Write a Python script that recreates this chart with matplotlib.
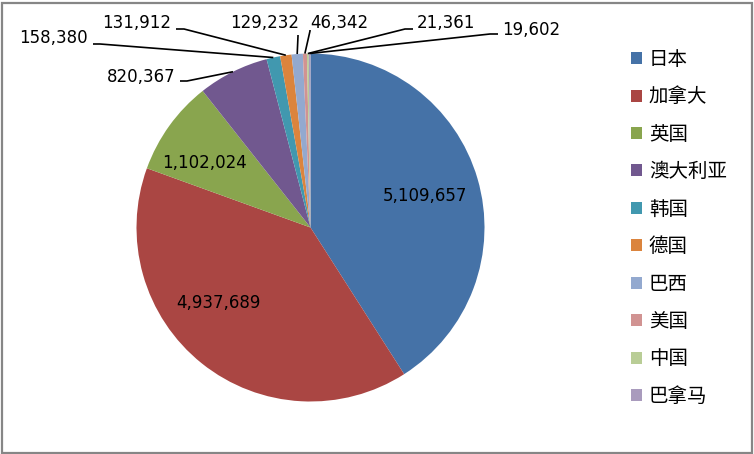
import numpy as np
import matplotlib.pyplot as plt
from matplotlib.patches import Rectangle

plt.rcParams['font.family'] = ['Noto Sans CJK SC', 'DejaVu Sans']

countries = ['日本', '加拿大', '英国', '澳大利亚', '韩国', '德国', '巴西', '美国', '中国', '巴拿马']
values = [5109657, 4937689, 1102024, 820367, 158380, 131912, 129232, 46342, 21361, 19602]
colors = ['#4572A7', '#AA4643', '#89A54E', '#71588F', '#4198AF',
          '#DB843D', '#93A9CF', '#D19392', '#B9CD96', '#A99BBD']

W, H = 754, 454
CX, CY, R = 310.5, 227.5, 174.0  # pie centre / radius in pixels (from top-left)

fig = plt.figure(figsize=(W / 100, H / 100), dpi=100)
fig.patches.append(Rectangle((1.5 / W, 1.5 / H), (W - 4) / W, (H - 4) / H,
                             transform=fig.transFigure, fill=False,
                             edgecolor='#868686', linewidth=1.6))

ax = fig.add_axes([(CX - R) / W, (H - CY - R) / H, 2 * R / W, 2 * R / H])
wedges, _ = ax.pie(values, colors=colors, startangle=90, counterclock=False,
                   radius=1.0, wedgeprops=dict(linewidth=0))
ax.set_xlim(-1, 1)
ax.set_ylim(-1, 1)
ax.set_aspect('equal')
ax.axis('off')


def px(x, y):
    # pixel (from top-left) -> data coords of the pie axes
    return (x - CX) / R, (CY - y) / R


def fmt(v):
    return f"{v:,}"


# inside labels (first three slices)
inside_pos = [(425, 196), (218, 303), (205, 163)]
for v, (x, y) in zip(values[:3], inside_pos):
    ax.text(*px(x, y), fmt(v), ha='center', va='center', fontsize=12,
            family='DejaVu Sans', color='black')

# outside labels: text anchor, horizontal alignment, stub end of leader line
outside = [
    ((175, 77), 'right', (180, 81), (187, 81)),
    ((88, 38), 'right', (93, 44), (100, 44)),
    ((171, 23), 'right', (176, 29), (184, 29)),
    ((299, 23), 'right', (298, 35), (298, 36)),
    ((310, 23), 'left', (310, 30), (310, 31)),
    ((417, 23), 'left', (413, 29), (405, 29)),
    ((502, 30), 'left', (498, 34), (490, 34)),
]
for v, w, (tpos, ha, s0, s1) in zip(values[3:], wedges[3:], outside):
    mid = np.deg2rad((w.theta1 + w.theta2) / 2)
    rim = (np.cos(mid), np.sin(mid))
    ax.text(*px(*tpos), fmt(v), ha=ha, va='center', fontsize=12,
            family='DejaVu Sans', color='black')
    a, b = px(*s0), px(*s1)
    ax.plot([a[0], b[0], rim[0]], [a[1], b[1], rim[1]], color='black',
            linewidth=1.2, clip_on=False, solid_capstyle='butt')

fig.legend(wedges, countries, loc='upper left', bbox_to_anchor=(631 / W, 1 - 49 / H),
           frameon=False, fontsize=14, handlelength=0.57, handleheight=0.57,
           handletextpad=0.35, labelspacing=0.845, borderpad=0, borderaxespad=0)

fig.savefig('out.png', dpi=100)
